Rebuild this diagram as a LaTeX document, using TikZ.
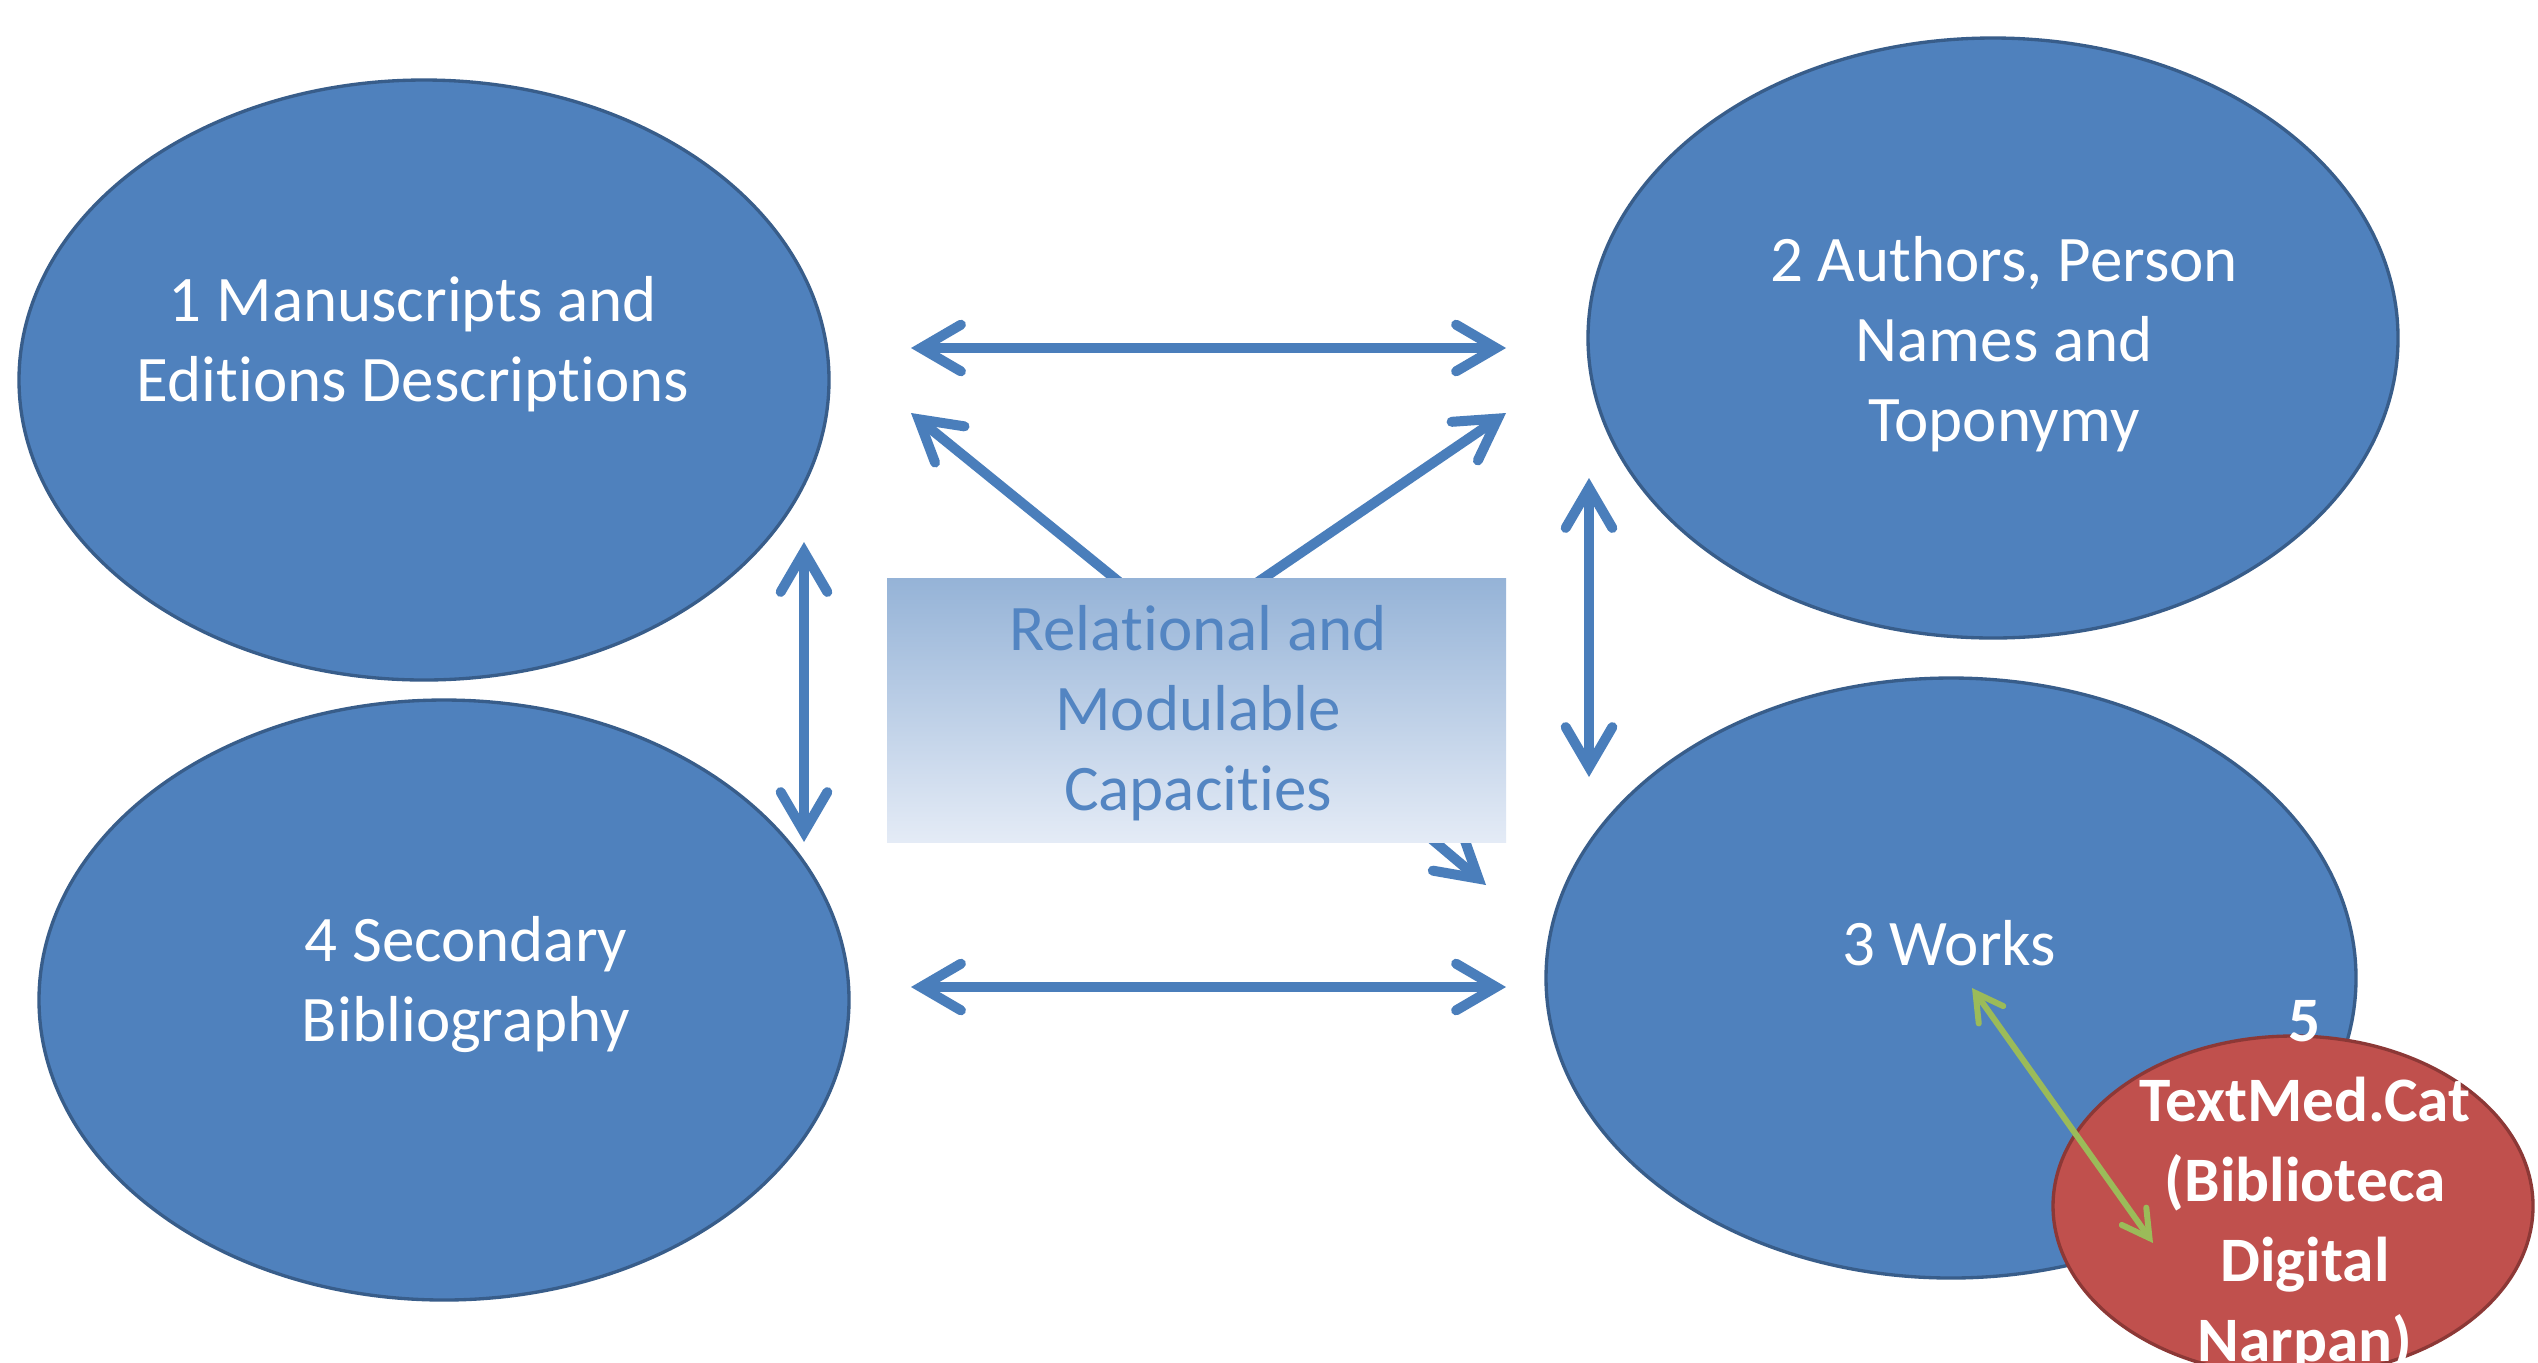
\documentclass[tikz,border=0pt]{standalone}
\usepackage{fontspec}
\setmainfont{Carlito}[Ligatures=NoCommon]
\usetikzlibrary{shapes.geometric,arrows.meta,backgrounds}
\definecolor{ofblue}{HTML}{4F81BD}
\definecolor{ofblueline}{HTML}{385D8A}
\definecolor{ofred}{HTML}{C0504D}
\definecolor{ofredline}{HTML}{8C3836}
\definecolor{ofgreen}{HTML}{9BBB59}
\definecolor{arrblue}{HTML}{4A7EBB}
\definecolor{boxtop}{HTML}{95B3D7}
\definecolor{boxbot}{HTML}{E4EBF6}
\definecolor{boxtext}{HTML}{5385C2}
\begin{document}
\begin{tikzpicture}[x=0.3pt,y=-0.3pt,
  blob/.style={ellipse, draw=ofblueline, line width=1pt, fill=ofblue, inner sep=0pt,
               minimum width=243pt, minimum height=180pt},
  redblob/.style={ellipse, draw=ofredline, line width=1pt, fill=ofred, inner sep=0pt,
               minimum width=144pt, minimum height=102pt},
  lbl/.style={text=white, align=center, inner sep=0pt, font=\fontsize{19.5pt}{24pt}\selectfont},
  redlbl/.style={text=white, align=center, inner sep=0pt, font=\fontsize{19pt}{24pt}\selectfont\bfseries},
  boxlbl/.style={text=boxtext, align=center, inner sep=0pt, font=\fontsize{19.5pt}{24pt}\selectfont},
  capbox/.style={rectangle, inner sep=0pt, minimum width=185.7pt, minimum height=79.2pt,
               top color=boxtop, bottom color=boxbot, shading angle=0},
  bluetip/.tip={Straight Barb[length=12pt,width=14pt,line cap=round,line join=miter]},
  greentip/.tip={Straight Barb[length=8pt,width=9pt,line cap=round,line join=miter]},
  link/.style={draw=arrblue, line width=3pt, bluetip-bluetip},
  onelink/.style={draw=arrblue, line width=3pt, -bluetip},
  glink/.style={draw=ofgreen, line width=1.8pt, greentip-greentip}]
\useasboundingbox (0,0) rectangle (2538,1362);

% ellipses
\node[blob] (e1) at (424,380) {};
\node[blob] (e2) at (1993,338) {};
\node[blob] (e4) at (444,1000) {};
\node[blob] (e3) at (1951,978) {};
\node[redblob] (e5) at (2293,1206) {};

% labels
\node[lbl] (t1) at (413,344) {1 Manuscripts and\\Editions Descriptions};
\node[lbl] (t2) at (2004,344) {2 Authors, Person\\Names and\\Toponymy};
\node[lbl] (t4) at (466,984) {4 Secondary\\Bibliography};
\node[lbl] (t3) at (1949,943) {3 Works};
\node[redlbl] (t5) at (2305,1186) {5\\TextMed.Cat\\(Biblioteca\\Digital\\Narpan)};

% central box
\node[capbox] (box) at (1196.5,710) {};
\node[boxlbl] (tb) at (1198,713) {Relational and\\Modulable\\Capacities};

% connector end points
\coordinate (h1l) at (911,348);
\coordinate (h1r) at (1506,348);
\coordinate (h2l) at (911,987);
\coordinate (h2r) at (1506,987);
\coordinate (v1t) at (804,542);
\coordinate (v1b) at (804,842);
\coordinate (v2t) at (1589,478);
\coordinate (v2b) at (1589,777);
\coordinate (dul) at (911,413);
\coordinate (dur) at (1506,413);
\coordinate (sul) at (1150,607);
\coordinate (sur) at (1230,601);
\coordinate (sbr) at (1396,809);
\coordinate (dbr) at (1486,885);
\coordinate (g1) at (1972,988);
\coordinate (g2) at (2153,1243);

\draw[link] (h1l) -- (h1r);
\draw[link] (h2l) -- (h2r);
\draw[link] (v1t) -- (v1b);
\draw[link] (v2t) -- (v2b);
\begin{pgfonlayer}{background}
\fill[white] (0,0) rectangle (2538,1362);
\draw[onelink] (sul) -- (dul);
\draw[onelink] (sur) -- (dur);
\draw[onelink] (sbr) -- (dbr);
\end{pgfonlayer}
\draw[glink] (g1) -- (g2);
\end{tikzpicture}
\end{document}
